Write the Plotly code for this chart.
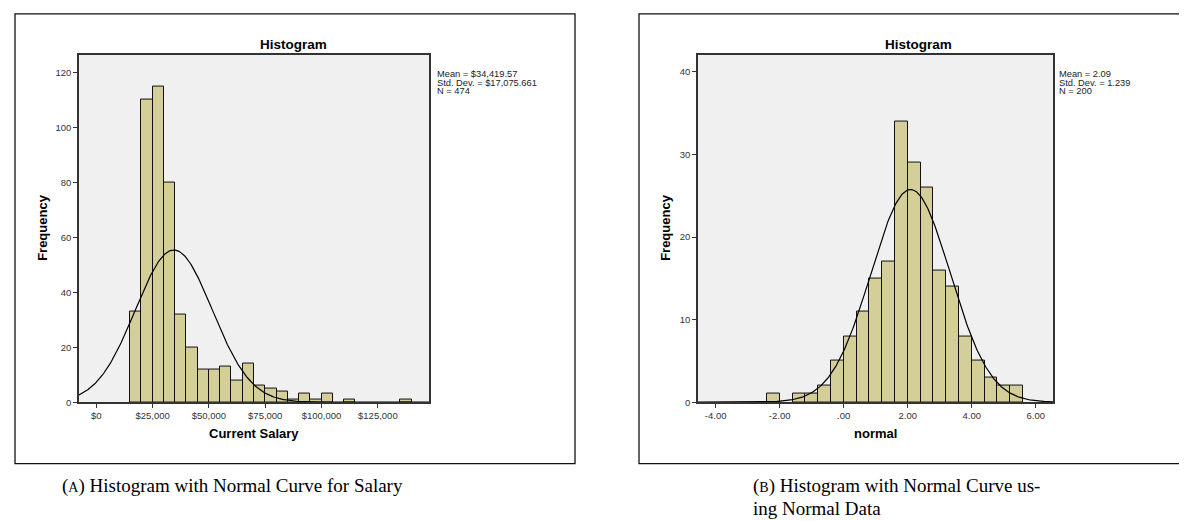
import numpy as np
import plotly.graph_objects as go

W, H = 1187, 521

# ---------------- data ----------------
salary_bin_start = [15000, 20000, 25000, 30000, 35000, 40000, 45000, 50000, 55000, 60000,
                    65000, 70000, 75000, 80000, 85000, 90000, 95000, 100000, 110000, 135000]
salary_counts = [33, 110, 115, 80, 32, 20, 12, 12, 13, 8,
                 14, 6, 5, 4, 1, 3, 1, 3, 1, 1]
salary_bin_width = 5000
salary_mean, salary_sd, salary_n = 34419.57, 17075.661, 474
salary_tickvals = [0, 25000, 50000, 75000, 100000, 125000]
salary_ticktext = ["$0", "$25,000", "$50,000", "$75,000", "$100,000", "$125,000"]
salary_stats = ["Mean = $34,419.57", "Std. Dev. = $17,075.661", "N = 474"]

normal_bin_start = [-2.4, -1.6, -1.2, -0.8, -0.4, 0.0, 0.4, 0.8, 1.2, 1.6,
                    2.0, 2.4, 2.8, 3.2, 3.6, 4.0, 4.4, 4.8, 5.2]
normal_counts = [1, 1, 1, 2, 5, 8, 11, 15, 17, 34,
                 29, 26, 16, 14, 8, 5, 3, 2, 2]
normal_bin_width = 0.4
normal_mean, normal_sd, normal_n = 2.09, 1.239, 200
normal_tickvals = [-4, -2, 0, 2, 4, 6]
normal_ticktext = ["-4.00", "-2.00", ".00", "2.00", "4.00", "6.00"]
normal_stats = ["Mean = 2.09", "Std. Dev. = 1.239", "N = 200"]

# ---------------- helpers ----------------
def px(x):
    return x / W

def py(y):
    return 1 - y / H

BAR_FILL = "#D4CF99"
FONT = "Liberation Sans, Arial, sans-serif"
SERIF = "Liberation Serif, Times New Roman, serif"

fig = go.Figure()

def add_hist(starts, counts, width, mean, sd, n, xr, xa, ya):
    centers = [s + width / 2 for s in starts]
    fig.add_trace(go.Bar(
        x=centers, y=counts, width=[width] * len(centers),
        marker=dict(color=BAR_FILL, line=dict(color="#111111", width=1)),
        xaxis=xa, yaxis=ya, showlegend=False, hoverinfo="x+y"))
    xs = np.linspace(xr[0], xr[1], 400)
    ys = n * width / (sd * np.sqrt(2 * np.pi)) * np.exp(-0.5 * ((xs - mean) / sd) ** 2)
    fig.add_trace(go.Scatter(
        x=xs, y=ys, mode="lines", line=dict(color="#000000", width=1.2),
        xaxis=xa, yaxis=ya, showlegend=False, hoverinfo="skip"))

salary_xr = [-7680, 147700]
normal_xr = [-4.553, 6.54]
add_hist(salary_bin_start, salary_counts, salary_bin_width, salary_mean, salary_sd, salary_n,
         salary_xr, "x", "y")
add_hist(normal_bin_start, normal_counts, normal_bin_width, normal_mean, normal_sd, normal_n,
         normal_xr, "x2", "y2")

axis_common = dict(
    showgrid=False, zeroline=False, showline=True, mirror=True,
    linecolor="#333333", linewidth=1.5,
    ticks="outside", ticklen=4, tickcolor="#333333", tickwidth=1,
    tickfont=dict(family=FONT, size=9.5, color="#333333"),
)

fig.update_layout(
    width=W, height=H,
    margin=dict(l=0, r=0, t=0, b=0),
    paper_bgcolor="white",
    plot_bgcolor="#F0F0F0",
    bargap=0,
    xaxis=dict(domain=[px(71), px(421)], range=salary_xr, anchor="y",
               tickvals=salary_tickvals, ticktext=salary_ticktext, **axis_common),
    yaxis=dict(domain=[py(398), py(47)], range=[0, 126.5], anchor="x",
               tickvals=[0, 20, 40, 60, 80, 100, 120], **axis_common),
    xaxis2=dict(domain=[px(690), px(1045)], range=normal_xr, anchor="y2",
                tickvals=normal_tickvals, ticktext=normal_ticktext, **axis_common),
    yaxis2=dict(domain=[py(398), py(47)], range=[0, 42.1], anchor="x2",
                tickvals=[0, 10, 20, 30, 40], **axis_common),
)

shapes = []
for x0, x1 in [(7, 567), (631, 1189)]:
    shapes.append(dict(type="rect", xref="paper", yref="paper",
                       x0=px(x0), x1=px(x1), y0=py(460), y1=py(6),
                       line=dict(color="#111111", width=1.3), fillcolor="rgba(0,0,0,0)"))
fig.update_layout(shapes=shapes)

ann = []
def text(x, y, s, size, bold=False, xanchor="center", yanchor="middle", angle=0, family=FONT,
         color="#000000"):
    ann.append(dict(x=px(x), y=py(y), xref="paper", yref="paper", showarrow=False,
                    text=f"<b>{s}</b>" if bold else s, textangle=angle,
                    xanchor=xanchor, yanchor=yanchor,
                    font=dict(family=family, size=size, color=color)))

# titles
text(285, 37, "Histogram", 13.5, bold=True)
text(910, 37, "Histogram", 13.5, bold=True)
# axis titles
text(35, 222, "Frequency", 13, bold=True, angle=-90)
text(658, 222, "Frequency", 13, bold=True, angle=-90)
text(246, 430, "Current Salary", 13, bold=True)
text(867, 430, "normal", 13, bold=True)
# stats
for i, s in enumerate(salary_stats):
    text(427, 67 + 8.5 * i, s, 9.3, xanchor="left", color="#222222")
for i, s in enumerate(normal_stats):
    text(1049, 67 + 8.5 * i, s, 9.3, xanchor="left", color="#222222")
# captions
text(52, 483, "(<span style='font-size:14px'>A</span>) Histogram with Normal Curve for Salary",
     19, xanchor="left", family=SERIF)
text(743, 483, "(<span style='font-size:14px'>B</span>) Histogram with Normal Curve us-",
     19, xanchor="left", family=SERIF)
text(743, 505, "ing Normal Data", 19, xanchor="left", family=SERIF)

fig.update_layout(annotations=ann)
fig.write_html("out.html")
